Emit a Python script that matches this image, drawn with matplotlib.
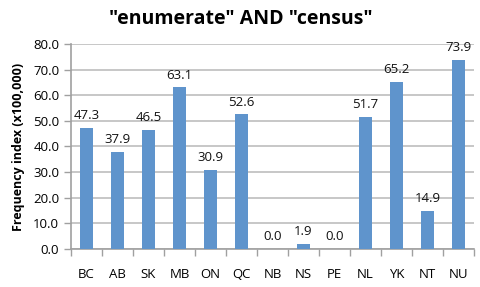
import numpy as np
import matplotlib.pyplot as plt
from matplotlib.ticker import FixedLocator, NullFormatter

# provinces and frequency values
provinces = ['BC', 'AB', 'SK', 'MB', 'ON', 'QC', 'NB', 'NS', 'PE', 'NL', 'YK', 'NT', 'NU']
values = [47.3, 37.9, 46.5, 63.1, 30.9, 52.6, 0.0, 1.9, 0.0, 51.7, 65.2, 14.9, 73.9]
yticks = [0, 10, 20, 30, 40, 50, 60, 70, 80]

plt.rcParams['font.family'] = ['Open Sans', 'DejaVu Sans']

fig = plt.figure(figsize=(4.81, 2.87), dpi=100)
ax = fig.add_axes([0.1476, 0.1324, 0.8378, 0.7143])

x = np.arange(len(provinces))
ax.bar(x, values, width=0.4, color='#5f94cc', zorder=3)

for xi, v in zip(x, values):
    ax.text(xi, v + 2.2, '%.1f' % v, ha='center', va='bottom', fontsize=9.5, color='#111111')

ax.set_xlim(-0.5, len(provinces) - 0.5)
ax.set_ylim(0, 80)
ax.set_yticks(yticks)
ax.set_yticklabels(['%.1f' % t for t in yticks], fontsize=9.5)
ax.yaxis.grid(True, color='#bdbdbd', linewidth=1.2, zorder=0)

ax.set_xticks(x)
ax.set_xticklabels(provinces, fontsize=9.5)
ax.tick_params(axis='x', which='major', length=0, pad=14)
ax.xaxis.set_minor_locator(FixedLocator(np.arange(len(provinces) + 1) - 0.5))
ax.xaxis.set_minor_formatter(NullFormatter())
ax.tick_params(axis='x', which='minor', length=5, color='#a0a0a0', width=1)
ax.tick_params(axis='y', length=5, color='#a0a0a0', width=1)

for s in ['top', 'right']:
    ax.spines[s].set_visible(False)
for s in ['left', 'bottom']:
    ax.spines[s].set_color('#a0a0a0')
    ax.spines[s].set_linewidth(1.2)

ax.set_ylabel('Frequency index (x100,000)', fontsize=9, fontweight='bold', labelpad=6)
fig.text(0.5, 0.935, '"enumerate" AND "census"', ha='center', va='center',
         fontsize=14, fontweight='bold')

fig.savefig('out.png', dpi=100)
